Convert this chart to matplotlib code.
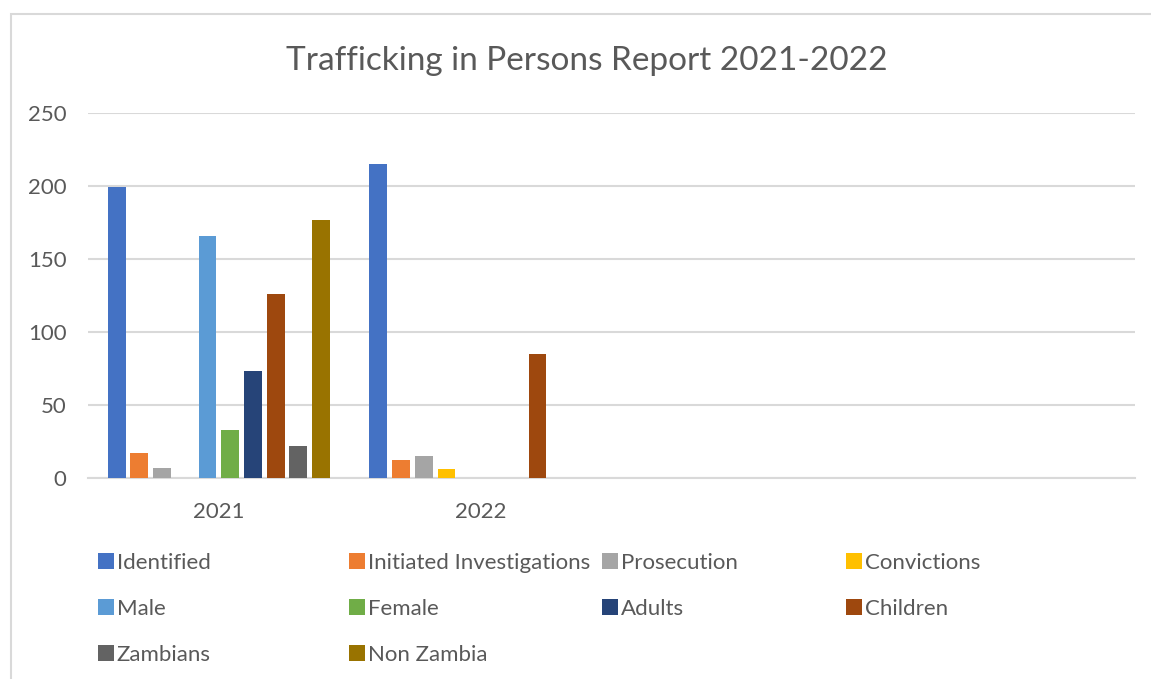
import numpy as np
import matplotlib.pyplot as plt
from matplotlib.patches import Rectangle

plt.rcParams['font.family'] = ['Lato', 'DejaVu Sans']

# data
years = ['2021', '2022', '', '']
series = ['Identified', 'Initiated Investigations', 'Prosecution', 'Convictions',
          'Male', 'Female', 'Adults', 'Children', 'Zambians', 'Non Zambia']
values = {
    'Identified':               [199, 215, 0, 0],
    'Initiated Investigations': [17, 12, 0, 0],
    'Prosecution':              [7, 15, 0, 0],
    'Convictions':              [0, 6, 0, 0],
    'Male':                     [166, 0, 0, 0],
    'Female':                   [33, 0, 0, 0],
    'Adults':                   [73, 0, 0, 0],
    'Children':                 [126, 85, 0, 0],
    'Zambians':                 [22, 0, 0, 0],
    'Non Zambia':               [177, 0, 0, 0],
}
colors = ['#4472C4', '#ED7D31', '#A5A5A5', '#FFC000', '#5B9BD5',
          '#70AD47', '#264478', '#9E480E', '#636363', '#997300']

W, H = 1151, 679
fig = plt.figure(figsize=(W / 100, H / 100), dpi=100)
ax = fig.add_axes([88 / W, 1 - 478 / H, (1135 - 88) / W, (478 - 113) / H])

x = np.arange(len(years))
slot = 0.0868
bars = []
for i, name in enumerate(series):
    b = ax.bar(x + (i - 4.5) * slot, values[name], width=0.068,
               color=colors[i], label=name, zorder=3)
    bars.append(b)

ax.set_xlim(-0.5, len(years) - 0.5)
ax.set_ylim(0, 250)
ax.set_yticks(range(0, 251, 50))
ax.set_xticks(x)
ax.set_xticklabels(years)
ax.grid(axis='y', color='#D9D9D9', linewidth=1.5, zorder=0)
for s in ['top', 'right', 'left']:
    ax.spines[s].set_visible(False)
ax.spines['bottom'].set_color('#D9D9D9')
ax.spines['bottom'].set_linewidth(1.5)
ax.tick_params(length=0, colors='#595959', labelsize=16)
ax.tick_params(axis='y', pad=15.5)
ax.tick_params(axis='x', pad=17)

fig.text(587 / W, 1 - 61 / H, 'Trafficking in Persons Report 2021-2022',
         ha='center', va='center', fontsize=24, color='#595959')

# legend: Excel lays it out row by row, four equal columns
col_x = [98, 349, 602, 846]
for j in range(4):
    idx = list(range(j, len(series), 4))
    fig.legend([bars[k] for k in idx], [series[k] for k in idx],
               loc='upper left', bbox_to_anchor=(col_x[j] / W, 1 - 553 / H),
               frameon=False, fontsize=16, labelcolor='#595959',
               handlelength=0.7, handleheight=0.7, handletextpad=0.15,
               labelspacing=1.17, borderpad=0, borderaxespad=0)

# chart area border
fig.add_artist(Rectangle((11 / W, -0.1), 1.2, 1 - 14 / H + 0.1,
                         transform=fig.transFigure, fill=False,
                         edgecolor='#D9D9D9', linewidth=1.5))

fig.savefig('out.png', dpi=100)
